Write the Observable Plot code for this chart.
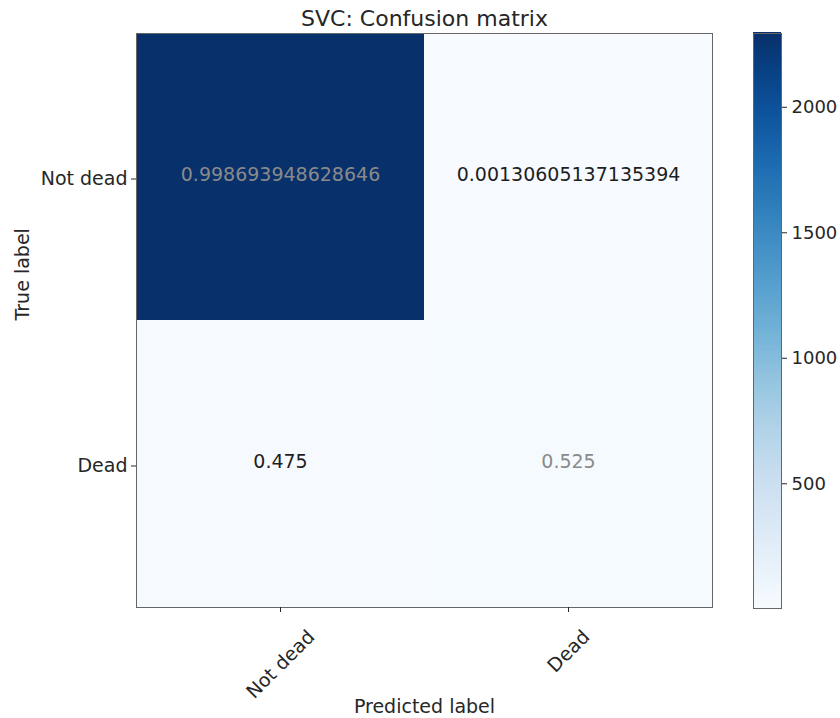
<!DOCTYPE html>
<html>
<head>
<meta charset="utf-8">
<script src="https://cdn.jsdelivr.net/npm/d3@7"></script>
<script src="https://cdn.jsdelivr.net/npm/@observablehq/plot@0.6"></script>
<style>
  html, body { margin: 0; padding: 0; background: #fff; }
  #wrap { position: relative; width: 840px; height: 718px; overflow: hidden; background: #fff; }
  #main, #cbar { position: absolute; top: 0; }
  #main { left: 0; }
  #cbar { left: 740px; }
  svg { font-family: "DejaVu Sans", sans-serif; }
</style>
</head>
<body>
<div id="wrap"><div id="main"></div><div id="cbar"></div></div>
<script>
// ---- data ----
const classes = ["Not dead", "Dead"];
const trueLabels = ["Not dead", "Not dead", "Dead", "Dead"];
const predLabels = ["Not dead", "Dead", "Not dead", "Dead"];
const counts = [2294, 3, 19, 21];
const rateLabels = ["0.998693948628646", "0.00130605137135394", "0.475", "0.525"];
const colorbarTicks = [500, 1000, 1500, 2000];
const titleText = "SVC: Confusion matrix";
const xLabel = "Predicted label";
const yLabel = "True label";

const cells = counts.map((c, i) => ({
  t: trueLabels[i], p: predLabels[i], count: c, rate: rateLabels[i], diag: trueLabels[i] === predLabels[i]
}));
const cmin = d3.min(counts), cmax = d3.max(counts);
const colorOpts = {type: "linear", scheme: "blues", domain: [cmin, cmax]};

const font = "DejaVu Sans";
const fs = 19;
const textColor = "#262626";

// measure tick label widths for matplotlib-like centered rotated labels
const ctx = document.createElement("canvas").getContext("2d");
ctx.font = `${fs}px "${font}"`;
const capH = fs * 0.75;
const xTickMarks = classes.map(c => {
  const w = ctx.measureText(c).width;
  return Plot.text([c], {
    x: d => d, frameAnchor: "bottom", text: d => d,
    textAnchor: "end", lineAnchor: "top", rotate: -45,
    dy: 21, dx: (w - capH) * 0.3535,
    fontSize: fs, fill: textColor
  });
});

const main = Plot.plot({
  width: 740, height: 718,
  marginLeft: 136, marginRight: 28, marginTop: 33, marginBottom: 111,
  x: {domain: classes, padding: 0, axis: null},
  y: {domain: classes, padding: 0, axis: null},
  color: colorOpts,
  style: {fontFamily: font, fontSize: fs + "px", color: textColor, background: "white"},
  marks: [
    Plot.cell(cells, {x: "p", y: "t", fill: "count", inset: 0}),
    Plot.text(cells.filter(d => d.diag), {x: "p", y: "t", text: "rate", fill: "#8a8a8a", fontSize: fs, dy: -2}),
    Plot.text(cells.filter(d => !d.diag), {x: "p", y: "t", text: "rate", fill: "#1e1e1e", fontSize: fs, dy: -2}),
    Plot.frame({stroke: "#666", strokeWidth: 1}),
    Plot.axisY({tickSize: 5, tickPadding: 4, label: null, fontSize: fs, color: textColor, dy: 2}),
    Plot.axisX({tickSize: 5, label: null, tickFormat: () => ""}),
    ...xTickMarks,
    Plot.text([xLabel], {frameAnchor: "bottom", lineAnchor: "middle", dy: 99, fontSize: fs, fill: textColor}),
    Plot.text([yLabel], {frameAnchor: "left", dx: -114, rotate: -90, fontSize: fs, fill: textColor}),
    Plot.text([titleText], {frameAnchor: "top", lineAnchor: "middle", dy: -15, fontSize: 22, fill: textColor})
  ]
});
document.getElementById("main").appendChild(main);

// ---- colorbar ----
const nSteps = 256;
const step = (cmax - cmin) / nSteps;
const gradient = d3.range(nSteps).map(i => ({y1: cmin + i * step, y2: cmin + (i + 1) * step, v: cmin + (i + 0.5) * step}));
const cbar = Plot.plot({
  width: 100, height: 718,
  marginLeft: 13, marginRight: 59, marginTop: 33, marginBottom: 110,
  x: {domain: [0, 1], axis: null},
  y: {domain: [cmin, cmax], axis: null},
  color: colorOpts,
  style: {fontFamily: font, fontSize: "18px", color: textColor, background: "white"},
  marks: [
    Plot.rect(gradient, {x1: 0, x2: 1, y1: "y1", y2: "y2", fill: "v", insetTop: -1, insetBottom: -1, shapeRendering: "crispEdges"}),
    Plot.frame({stroke: "#666", strokeWidth: 1}),
    Plot.axisY({anchor: "right", ticks: colorbarTicks, tickSize: 5, tickPadding: 5, label: null, fontSize: 18, color: textColor, tickFormat: d => String(d)})
  ]
});
document.getElementById("cbar").appendChild(cbar);
</script>
</body>
</html>
